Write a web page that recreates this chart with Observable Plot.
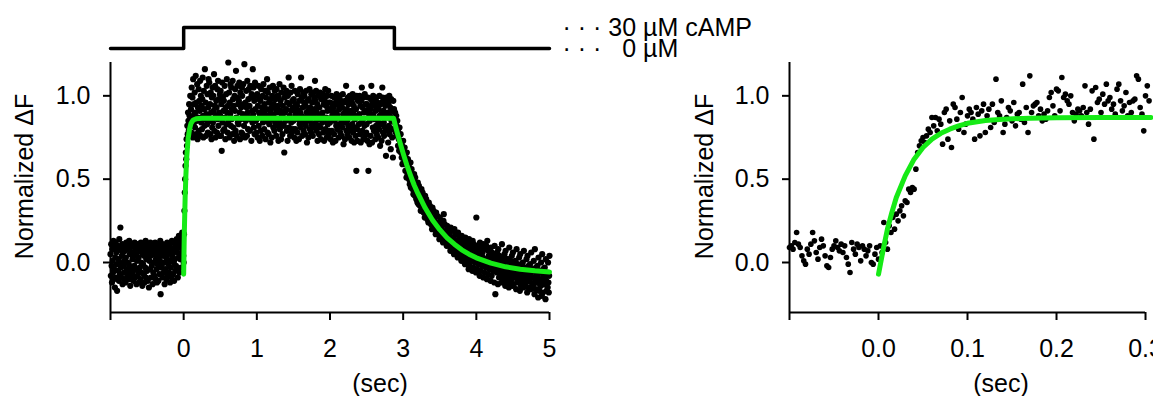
<!DOCTYPE html>
<html><head><meta charset="utf-8">
<script src="https://cdn.jsdelivr.net/npm/d3@7"></script>
<script src="https://cdn.jsdelivr.net/npm/@observablehq/plot@0.6"></script>
<style>
body{margin:0;background:#fff;}
#wrap{position:relative;width:1153px;height:396px;overflow:hidden;background:#fff;font-family:"Liberation Sans",Arial,sans-serif;}
#wrap > svg{position:absolute;overflow:visible;}
</style></head><body><div id="wrap"></div>
<script>
// ---------- data ----------
const dt = 0.005;                 // left panel sampling (s)
const baseT0 = -1, stepT0 = 0, decayT0 = 2.88;
const baseY = [
.05,-.08,.11,-.02,-.12,.08,.01,-.06,.13,-.10,
-.04,.09,-.15,.03,.12,-.09,.06,-.01,-.17,.07,
.10,-.05,.02,-.11,.14,.00,-.07,.21,-.03,.08,
-.09,.04,.11,-.13,.06,-.02,.09,-.06,.01,-.10,
.07,-.12,.03,.12,-.04,.08,-.08,.00,.10,-.05,
-.01,.13,-.10,.05,-.14,.09,-.03,.06,-.07,.11,
.02,-.06,.10,-.11,.04,-.02,.12,-.09,.07,-.04,
.09,-.13,.01,.06,-.08,.11,-.05,.03,-.12,.08,
-.03,.07,-.10,.12,.00,-.06,.09,-.14,.05,-.01,
.11,-.07,.04,-.12,.08,-.03,.13,-.09,.02,.06,
-.05,.10,-.11,.03,.07,-.15,.01,.09,-.04,.12,
.04,-.09,.08,-.02,.11,-.13,.06,-.06,.00,.10,
-.08,.05,.12,-.10,.02,.09,-.04,-.12,.07,-.01,
.06,-.11,.03,.10,-.07,.01,.13,-.19,.05,-.03,
-.02,.08,-.09,.11,.04,-.06,.00,.09,-.13,.07,
.10,-.04,.06,-.10,.02,.12,-.08,.05,-.01,.08,
-.06,.11,.01,-.12,.09,-.03,.07,-.09,.13,.03,
.05,-.07,.12,.00,-.11,.08,.02,-.05,.10,-.02,
.08,.14,-.04,.06,-.09,.11,.03,.16,-.06,.09,
.12,.02,.15,-.03,.10,.05,.18,.07,.13,.04];
const stepY = [
.00,.17,.31,.42,.50,.58,.66,.62,.74,.70,.82,.77,.90,.85,.79,.95,.88,.76,1.00,.83,
.92,.78,1.05,.86,.99,.75,1.10,.83,.95,.89,
1.02,.81,.90,1.12,.77,.96,.85,1.07,.74,.93,
.87,1.04,.79,.97,.91,1.09,.76,1.00,.84,.94,
.80,.98,1.11,.88,.75,1.03,.92,.82,1.16,.86,
.96,.76,.89,1.06,.83,1.01,.78,.93,1.10,.87,
1.08,.85,.95,.77,1.02,.90,.74,.99,.81,1.05,
.84,1.00,.91,1.13,.79,.94,1.06,.75,.88,.97,
.93,.78,1.04,.86,1.09,.82,.98,.90,.76,1.01,
.88,1.03,.76,.95,.67,1.08,.84,.99,.79,.91,
.97,.80,1.06,.87,.74,.93,1.01,.83,1.10,.90,
.78,.94,1.20,.85,1.02,.75,.96,.89,1.07,.82,
1.05,.86,.92,.77,1.09,.98,.81,.94,.73,1.00,
.91,1.04,.79,1.15,.87,.76,.99,1.06,.84,.95,
.83,.97,1.08,.90,.74,1.02,.86,.93,.78,1.05,
1.00,.77,.89,1.07,.95,.82,1.19,.88,.75,.96,
.85,1.03,.93,.76,1.09,.90,.80,.98,1.04,.87,
.94,.79,1.06,.86,.99,.73,1.01,.91,.84,1.16,
.89,1.05,.81,.97,.77,1.08,.92,.85,1.00,.78,
.86,1.01,.75,.94,1.06,.82,.90,.98,.73,.88,
.97,.79,1.04,.87,.93,.76,1.00,.84,1.07,.91,
.80,.95,.89,1.03,.74,.99,.85,.92,1.10,.78,
1.02,.88,.77,.96,.83,1.05,.91,.72,.98,.86,
.93,.75,1.00,.89,1.06,.81,.95,.87,.79,1.03,
.84,.98,.92,.76,1.04,.90,.82,1.00,.94,.73,
.99,.85,1.07,.80,.91,.97,.74,1.02,.88,.83,
.77,.94,.87,1.05,.82,.66,.99,.90,1.01,.85,
.92,1.03,.79,.96,.73,1.00,.86,1.11,.81,.95,
.88,.76,1.02,.91,.84,1.06,.78,.97,.93,.80,
.85,.98,.75,.92,1.03,.80,.89,.95,.73,.87,
.94,.78,1.01,.86,.91,.74,.97,.83,1.04,.90,
.81,1.11,.88,.99,.76,.93,.84,1.02,.79,.96,
1.00,.87,.77,.94,.82,1.03,.90,.72,.97,.85,
.91,.75,.98,.88,1.04,.80,.93,.86,.78,1.01,
.83,.96,.90,.76,1.02,.89,.81,.99,.92,1.09,
.97,.84,1.03,.79,.90,.95,.73,1.00,.87,.82,
.77,.93,.86,1.02,.81,.74,.98,.89,.99,.84,
.90,1.01,.78,.95,.73,.98,.85,1.04,.80,.94,
.87,.75,1.00,.91,.83,1.03,.77,.96,.92,.79,
.84,.96,.74,.91,1.00,.79,.88,.94,.72,.86,
.93,.77,.99,.85,.90,.73,.96,.82,1.01,.89,
.80,.95,.87,.98,.75,.92,.83,1.00,.78,.94,
.97,.86,.76,.93,.81,1.01,.89,.71,.96,.84,
.90,.74,.97,.87,1.06,.79,.92,.85,.77,.99,
.82,.95,.89,.75,1.00,.88,.80,.97,.91,.73,
.96,.83,1.01,.78,.89,.94,.72,.99,.86,.81,
.76,.92,.55,1.00,.80,.73,.97,.88,.98,.83,
.89,1.00,.77,.94,.72,.97,.84,1.05,.79,.93,
.86,.74,.99,.90,.82,1.01,.76,.95,.91,.78,
.83,.95,.73,.90,.99,.55,.87,.93,.71,.85,
.92,.76,.98,1.06,.89,.72,.95,.81,1.00,.88,
.79,.94,.86,.97,.74,.91,.82,.99,.77,.93,
.96,.85,.75,.92,.80,1.00,.88,.70,.95,.83,
.89,.73,.96,1.05,.99,.78,.91,.84,.76,.98,
.81,.94,.88,.64,.99,.87,.79,.96,.90,.72,
.95,.82,1.00,.77,.88,.93,.68,.98,.85,.80,
.75,.91,.63,.97,.86,.92];
const decayY = [
.86,.80,.90,.83,.78,.88,.82,.76,.85,.79,
.70,.78,.74,.67,.81,.73,.68,.77,.66,.72,
.63,.70,.59,.67,.73,.60,.66,.64,.69,.62,
.55,.63,.60,.51,.66,.58,.53,.62,.57,.54,
.50,.57,.47,.54,.60,.45,.52,.56,.49,.51,
.44,.50,.41,.48,.53,.46,.40,.51,.43,.45,
.38,.45,.43,.36,.48,.41,.35,.46,.39,.40,
.34,.41,.31,.39,.44,.37,.32,.42,.35,.36,
.30,.37,.34,.27,.40,.33,.28,.38,.31,.32,
.26,.33,.31,.24,.36,.30,.25,.34,.27,.29,
.23,.30,.27,.20,.33,.26,.21,.31,.24,.25,
.20,.27,.24,.17,.30,.23,.18,.28,.21,.22,
.17,.24,.21,.14,.27,.20,.15,.25,.18,.19,
.15,.22,.19,.12,.25,.29,.13,.23,.16,.17,
.12,.19,.17,.10,.22,.15,.11,.21,.14,.13,
.10,.17,.15,.07,.21,.13,.08,.19,.12,.11,
.08,.15,.13,.05,.20,.11,.06,.17,.10,.09,
.06,.13,.11,.03,.18,.09,.04,.15,.08,.07,
.05,.12,.09,.01,.16,.08,.02,.14,.07,.06,
.03,.11,.08,-.01,.15,.07,.00,.13,.05,.04,
.02,.10,.07,-.04,.14,.05,-.02,.12,.04,.03,
.01,.09,.06,-.05,.13,.04,-.03,.11,.03,.02,
.00,.08,.05,-.06,.27,.03,-.04,.10,.02,.01,
-.01,.07,.04,-.08,.12,.02,-.05,.09,.01,.00,
-.02,.06,.03,-.09,.11,.01,-.06,.08,.00,-.01,
-.03,.10,.02,-.10,.13,.00,-.07,.07,.04,-.02,
-.04,.05,.01,-.11,.09,-.01,-.08,.06,.03,-.03,
-.05,.04,.00,-.12,.10,-.02,-.19,.05,.02,-.04,
-.06,.06,-.01,-.13,.08,-.03,-.09,.04,.01,-.05,
-.07,.03,-.02,-.12,.11,-.04,-.10,.03,.00,-.06,
-.08,.05,-.03,-.14,.07,-.05,-.11,.02,-.01,-.07,
-.09,.02,-.04,-.15,.09,-.06,-.12,.01,-.02,-.08,
-.10,.04,-.05,-.14,.06,-.07,-.13,.00,-.03,-.09,
-.09,.01,-.06,-.16,.08,-.08,-.12,-.01,-.04,-.10,
-.11,.03,-.07,-.17,.05,-.09,-.14,-.02,-.05,-.11,
-.10,.00,-.06,-.15,.07,-.08,-.13,-.03,-.04,-.12,
-.12,.02,-.08,-.18,.04,-.10,-.15,-.02,-.06,-.11,
-.11,-.01,-.07,-.16,.06,-.09,-.14,-.04,-.05,-.13,
-.13,.01,-.09,-.19,.08,-.10,-.16,-.03,-.07,-.12,
-.12,-.02,-.08,-.21,.03,-.11,-.17,-.05,-.06,-.14,
-.14,.00,-.10,-.20,.05,-.12,-.18,-.04,-.08,-.13,
-.13,-.03,-.09,-.22,.02,-.11,-.17,-.06,-.07,-.15,
.00,-.12,-.18,-.08,.04];

// fitted curves
const fitLeftT = [0,.005,.01,.02,.03,.04,.06,.08,.1,.13,.17,.25,2.87,2.9,2.95,3.0,3.05,3.1,3.15,3.2,3.3,3.4,3.5,3.6,3.7,3.8,3.9,4.0,4.2,4.4,4.6,4.8,5.0];
const fitLeftY = [-.07,.07,.20,.39,.52,.62,.74,.80,.835,.855,.862,.865,.865,.81,.73,.655,.585,.523,.465,.416,.328,.255,.197,.148,.11,.076,.05,.028,-.004,-.026,-.04,-.05,-.057];

// right panel: expanded view of the onset
const zoomT0 = -0.1, zoomDt = 0.002;
const zoomY = [
.09,.10,.08,.12,.18,.11,.09,.04,.01,-.01,.08,.05,.11,.18,.13,.06,.02,.09,.14,.10,
.04,-.02,-.03,.03,.08,.10,.13,.09,.07,.11,.06,.10,.03,-.01,-.06,.12,.08,.05,.11,.09,
.01,.10,.08,.04,.07,.10,.00,-.01,.05,.09,
.02,
.10,.06,.24,.12,.08,.22,.18,.27,.20,.29,
.25,.31,.34,.28,.37,.36,.44,.42,.45,.44,
.56,.66,.70,.73,.75,.72,.76,.80,.78,.87,
.82,.87,.79,.86,.83,.71,.90,.92,.74,.85,
.69,.95,.93,.86,.80,.90,.99,.78,.83,.88,
.92,.90,.86,.74,.93,.89,.76,.91,.95,.78,
.88,.92,.81,.95,.84,1.10,.90,.88,.97,.78,
.83,.87,.93,.91,.85,.96,.82,.89,.90,.86,
1.07,.84,.93,.78,1.12,.90,.94,.95,.96,.88,
.92,.85,.89,.86,.91,.99,1.02,.94,.88,1.04,
1.03,.91,1.11,.99,1.01,.97,.95,1.00,.90,.85,
.89,.92,.91,.88,.93,1.06,.90,.83,.92,1.03,
.74,1.05,.96,.98,.90,1.01,.95,1.07,.97,.99,
.92,.95,.89,1.04,1.07,.97,.91,.94,1.02,.88,
.96,.90,.97,.98,1.12,1.10,.93,.89,.79,1.00,
1.06,.97];
const fitRightT = [0,.005,.01,.015,.02,.03,.04,.05,.06,.07,.08,.09,.1,.12,.14,.17,.2,.25,.306];
const fitRightY = [-.07,.07,.20,.30,.39,.52,.62,.69,.74,.775,.80,.82,.835,.852,.86,.866,.868,.87,.87];

// stimulus protocol
const stimT = [-1, 0, 2.88, 5];
const stimLevel = [0, 1, 0, 0];
const legendLevel = [1, 0];
const legendLabel = ["· · · 30 µM cAMP", "· · ·   0 µM"];

// axes
const yDomain = [-0.3, 1.2];
const yTicks = [0, 0.5, 1.0];
const leftXDomain = [-1, 5];
const leftXTicks = [-1, 0, 1, 2, 3, 4, 5];
const rightXDomain = [-0.1, 0.3056];
const rightXTicks = [-0.1, 0, 0.1, 0.2, 0.3];
const yLabel = "Normalized ΔF";
const xLabel = "(sec)";

// ---------- build ----------
const seg = (arr, t0, step) => arr.map((y, i) => ({t: t0 + i * step, y}));
const leftPts = [...seg(baseY, baseT0, dt), ...seg(stepY, stepT0, dt), ...seg(decayY, decayT0, dt)];
const rightPts = seg(zoomY, zoomT0, zoomDt);
const fitL = fitLeftT.map((t, i) => ({t, y: fitLeftY[i]}));
const fitR = fitRightT.map((t, i) => ({t, y: fitRightY[i]}));
const stimData = stimT.map((t, i) => ({t, v: stimLevel[i]}));
const legData = legendLevel.map((v, i) => ({v, label: legendLabel[i]}));

const FONT = "Liberation Sans, Arial, sans-serif";
const GREEN = "#16ea16";
const style = {fontFamily: FONT, fontSize: "25px", background: "transparent", overflow: "visible", color: "#000"};

function panel({width, marginLeft, marginRight, xDomain, xTicks, xFmt, pts, fit, r, labelDx, secDx, axisEnd}) {
  return Plot.plot({
    width, height: 340, marginLeft, marginRight, marginTop: 6, marginBottom: 84,
    style,
    x: {domain: xDomain},
    y: {domain: yDomain},
    marks: [
      Plot.ruleX([xDomain[0]], {stroke: "#000", strokeWidth: 2}),
      Plot.ruleY([yDomain[0]], {x1: xDomain[0], x2: axisEnd, stroke: "#000", strokeWidth: 2}),
      Plot.axisY({ticks: yTicks, tickFormat: d3.format(".1f"), tickSize: 7, tickPadding: 13, strokeWidth: 2, fontSize: 25, label: null}),
      Plot.axisX({ticks: xTicks, tickFormat: xFmt, tickSize: 8, tickPadding: 19, strokeWidth: 2, fontSize: 25, label: null}),
      Plot.dot(pts, {x: "t", y: "y", r, fill: "#000", stroke: null}),
      Plot.line(fit, {x: "t", y: "y", stroke: GREEN, strokeWidth: 5, strokeLinejoin: "round"}),
      Plot.text([yLabel], {text: d => d, frameAnchor: "left", textAnchor: "middle", lineAnchor: "middle", rotate: -90, dx: labelDx, dy: -11, fontSize: 25}),
      Plot.text([xLabel], {text: d => d, frameAnchor: "bottom", textAnchor: "middle", lineAnchor: "middle", dy: 71, dx: secDx, fontSize: 25})
    ]
  });
}

const left = panel({
  width: 580, marginLeft: 110, marginRight: 31, xDomain: leftXDomain, xTicks: leftXTicks,
  xFmt: d => d === leftXDomain[0] ? "" : String(d), pts: leftPts, fit: fitL, r: 3.1, labelDx: -86, secDx: 50, axisEnd: leftXDomain[1]
});
const right = panel({
  width: 573, marginLeft: 209, marginRight: 3, xDomain: rightXDomain, xTicks: rightXTicks,
  xFmt: d => d === rightXDomain[0] ? "" : d3.format(".1f")(d), pts: rightPts, fit: fitR, r: 2.8, labelDx: -85, secDx: 31, axisEnd: 0.3
});

const stim = Plot.plot({
  width: 760, height: 56, marginLeft: 110, marginRight: 211, marginTop: 27, marginBottom: 8,
  style,
  x: {domain: leftXDomain, axis: null},
  y: {domain: [0, 1], axis: null},
  marks: [
    Plot.line(stimData, {x: "t", y: "v", curve: "step-after", stroke: "#000", strokeWidth: 3.5}),
    Plot.text(legData, {x: () => leftXDomain[1], y: "v", text: "label", textAnchor: "start", lineAnchor: "middle", dx: 13, fontSize: 25})
  ]
});

const wrap = document.getElementById("wrap");
[[stim, 0, 0], [left, 0, 56], [right, 580, 56]].forEach(([el, x, y]) => {
  el.style.left = x + "px"; el.style.top = y + "px";
  wrap.appendChild(el);
});
</script></body></html>
